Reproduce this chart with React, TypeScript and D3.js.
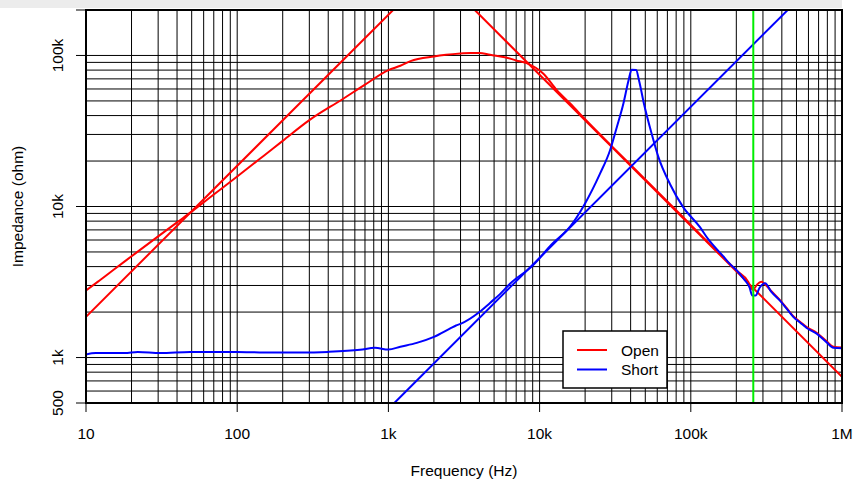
import React from "react";
import * as d3 from "d3";

// ---- data ----
const openFreq = [10, 12, 15, 20, 30, 40, 50, 70, 100, 150, 200, 300, 500, 700, 1000, 1200, 1400, 2000, 3000, 3500, 4000, 4700, 6000, 7000, 8200, 10600, 13000, 16000, 20000, 30000, 50000, 100000, 150000, 172000, 200000, 240000, 252000, 258000, 264000, 276000, 293000, 310000, 340000, 389000, 430000, 476000, 530000, 584000, 680000, 792000, 877000, 1000000];
const openZ = [2780, 3180, 3770, 4680, 6340, 7850, 9250, 12000, 15800, 21700, 27200, 37300, 51500, 64100, 80000, 85500, 91700, 98500, 103000, 104000, 104000, 101000, 97000, 92700, 89000, 75700, 59000, 47900, 37800, 25100, 15100, 7550, 5030, 4400, 3780, 3170, 2860, 2800, 2880, 3060, 3170, 3050, 2760, 2400, 2130, 1880, 1720, 1590, 1460, 1280, 1180, 1165];

const shortFreq = [10, 11.6, 18, 22, 31, 49, 100, 150, 260, 400, 650, 815, 1000, 1200, 1540, 2000, 2600, 2800, 3000, 4000, 4700, 5470, 6370, 9000, 12000, 15900, 19900, 25100, 29200, 32400, 35800, 38700, 40600, 43500, 45500, 49000, 55100, 61000, 72800, 89000, 115000, 130000, 150000, 165000, 172000, 180000, 200000, 225000, 245000, 255000, 268000, 285000, 310000, 340000, 389000, 430000, 476000, 530000, 584000, 680000, 792000, 877000, 1000000];
const shortZ = [1047, 1070, 1070, 1090, 1070, 1090, 1090, 1080, 1080, 1090, 1125, 1160, 1130, 1180, 1250, 1370, 1570, 1630, 1670, 2000, 2300, 2630, 3080, 4060, 5600, 7350, 10400, 16500, 23500, 33500, 47900, 68000, 80400, 80000, 68000, 47900, 30300, 21300, 14100, 9900, 7300, 6100, 5150, 4650, 4420, 4200, 3800, 3300, 2900, 2570, 2570, 2900, 3100, 2730, 2380, 2110, 1860, 1700, 1570, 1440, 1260, 1160, 1150];

// asymptote lines (end points, clipped to the plot)
const openRiseFreq = [10, 1200];
const openRiseZ = [1860, 223200];
const openFallFreq = [3000, 1000000];
const openFallZ = [248300, 745];
const shortRiseFreq = [1000, 500000];
const shortRiseZ = [457, 228500];

const markerFreq = 259000;

const xTicks = [10, 100, 1000, 10000, 100000, 1000000];
const xTickLabels = ["10", "100", "1k", "10k", "100k", "1M"];
const yTicks = [500, 1000, 10000, 100000, 200000];
const yTickLabels = ["500", "1k", "10k", "100k", ""];

const seriesNames = ["Open", "Short"];
const seriesColors = ["#ff0000", "#0000ff"];

export default function App() {
  const W = 855, H = 481;
  const L = 86, R = 842, T = 10, B = 403;
  const x = d3.scaleLog().domain([10, 1e6]).range([L, R]);
  const y = d3.scaleLog().domain([500, 200000]).range([B, T]);

  const xGrid: number[] = [];
  for (let e = 1; e <= 5; e++) for (let k = 1; k <= 9; k++) xGrid.push(k * Math.pow(10, e));
  xGrid.push(1e6);
  const yGrid: number[] = [];
  for (let e = 2; e <= 5; e++) for (let k = 1; k <= 9; k++) {
    const v = k * Math.pow(10, e);
    if (v >= 500 && v <= 200000) yGrid.push(v);
  }

  const line = d3.line<[number, number]>().x(d => x(d[0])).y(d => y(d[1]));
  const smooth = d3.line<[number, number]>().x(d => x(d[0])).y(d => y(d[1])).curve(d3.curveMonotoneX);
  const mk = (f: number[], z: number[]) => line(f.map((v, i) => [v, z[i]] as [number, number])) || "";
  const mks = (f: number[], z: number[]) => smooth(f.map((v, i) => [v, z[i]] as [number, number])) || "";

  const font = "'Liberation Sans', Arial, Helvetica, sans-serif";
  const fs = 15.5;

  return (
    <svg width={W} height={H} style={{ position: "absolute", left: 0, top: 0, background: "#fff" }} fontFamily={font}>
      <rect x={0} y={0} width={W} height={H} fill="#fff" />
      <rect x={0} y={0} width={R} height={8} fill="#ececec" />
      <defs>
        <clipPath id="plotclip">
          <rect x={L} y={T} width={R - L} height={B - T} />
        </clipPath>
      </defs>
      {/* grid */}
      <g stroke="#000" strokeWidth={1}>
        {xGrid.map((v, i) => (
          <line key={"gx" + i} x1={x(v)} x2={x(v)} y1={T} y2={B} />
        ))}
        {yGrid.map((v, i) => (
          <line key={"gy" + i} x1={L} x2={R} y1={y(v)} y2={y(v)} />
        ))}
      </g>
      {/* curves */}
      <g clipPath="url(#plotclip)" fill="none" strokeWidth={2} strokeLinejoin="round">
        <path d={mk(openRiseFreq, openRiseZ)} stroke={seriesColors[0]} />
        <path d={mk(openFallFreq, openFallZ)} stroke={seriesColors[0]} />
        <path d={mks(openFreq, openZ)} stroke={seriesColors[0]} />
        <path d={mk(shortRiseFreq, shortRiseZ)} stroke={seriesColors[1]} />
        <path d={mks(shortFreq, shortZ)} stroke={seriesColors[1]} />
        <line x1={x(markerFreq)} x2={x(markerFreq)} y1={T} y2={B} stroke="#00ee00" strokeWidth={2} />
      </g>
      {/* border */}
      <rect x={L} y={T} width={R - L} height={B - T} fill="none" stroke="#000" strokeWidth={2} />
      {/* x ticks */}
      {xTicks.map((v, i) => (
        <g key={"xt" + i}>
          <line x1={x(v)} x2={x(v)} y1={B} y2={B + 9} stroke="#000" strokeWidth={1} />
          <text x={x(v)} y={438.5} fontSize={fs} textAnchor="middle" fill="#000">{xTickLabels[i]}</text>
        </g>
      ))}
      {/* y ticks */}
      {yTicks.map((v, i) => (
        <g key={"yt" + i}>
          <line x1={L - 10} x2={L} y1={y(v)} y2={y(v)} stroke="#000" strokeWidth={1} />
          <text transform={`translate(63,${y(v)}) rotate(-90)`} fontSize={fs} textAnchor="middle" fill="#000">{yTickLabels[i]}</text>
        </g>
      ))}
      <text x={(L + R) / 2} y={476} fontSize={fs} textAnchor="middle" fill="#000">Frequency (Hz)</text>
      <text transform={`translate(22.5,${(T + B) / 2}) rotate(-90)`} fontSize={fs} textAnchor="middle" fill="#000">Impedance (ohm)</text>
      {/* legend */}
      <rect x={563} y={331} width={104} height={57} fill="#fff" stroke="#000" strokeWidth={1.5} />
      {seriesNames.map((n, i) => (
        <g key={"lg" + i}>
          <line x1={577} x2={607} y1={350 + i * 19.5} y2={350 + i * 19.5} stroke={seriesColors[i]} strokeWidth={2} />
          <text x={621} y={355.5 + i * 19.5} fontSize={fs} fill="#000">{n}</text>
        </g>
      ))}
    </svg>
  );
}
